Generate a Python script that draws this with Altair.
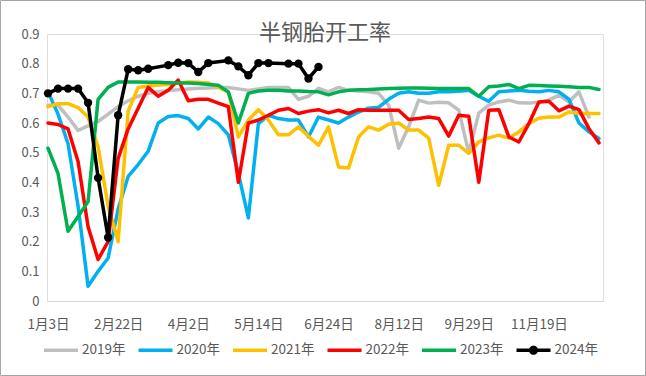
import altair as alt
import pandas as pd

# ---------------- data ----------------
tick_labels = ["1月3日", "2月22日", "4月2日", "5月14日", "6月24日", "8月12日", "9月29日", "11月19日"]
tick_step = 7
n_weeks = 56
weeks = list(range(n_weeks))

years = ["2019年", "2020年", "2021年", "2022年", "2023年", "2024年"]
colors = ["#BFBFBF", "#00B0F0", "#FFC000", "#FF0000", "#00B050", "#000000"]

y2019 = [0.66, 0.66, 0.62, 0.575, 0.59, 0.605, 0.63, 0.655, 0.675, 0.69,
         0.70, 0.705, 0.71, 0.712, 0.715, 0.717, 0.718, 0.72, 0.72, 0.715,
         0.71, 0.715, 0.72, 0.72, 0.72, 0.68, 0.69, 0.717, 0.705, 0.72,
         0.71, 0.708, 0.705, 0.70, 0.66, 0.515, 0.587, 0.677, 0.667, 0.67,
         0.668, 0.643, 0.50, 0.633, 0.66, 0.671, 0.677, 0.668, 0.667, 0.67,
         0.677, 0.694, 0.671, 0.705, 0.62, None]
y2020 = [0.705, 0.63, 0.53, 0.32, 0.05, 0.10, 0.145, 0.31, 0.42, 0.46,
         0.505, 0.60, 0.622, 0.625, 0.615, 0.58, 0.62, 0.598, 0.56, 0.43,
         0.28, 0.598, 0.626, 0.615, 0.61, 0.61, 0.553, 0.62, 0.61, 0.60,
         0.62, 0.637, 0.65, 0.653, 0.68, 0.70, 0.705, 0.70, 0.70, 0.705,
         0.705, 0.707, 0.71, 0.69, 0.673, 0.705, 0.708, 0.71, 0.707, 0.705,
         0.71, 0.705, 0.68, 0.60, 0.57, 0.548]
y2021 = [0.655, 0.665, 0.665, 0.652, 0.62, 0.52, 0.32, 0.20, 0.64, 0.72,
         0.725, 0.728, 0.73, 0.735, 0.738, 0.737, 0.735, 0.72, 0.705, 0.553,
         0.61, 0.645, 0.61, 0.56, 0.56, 0.587, 0.555, 0.525, 0.587, 0.452,
         0.448, 0.553, 0.587, 0.576, 0.596, 0.60, 0.576, 0.576, 0.549, 0.39,
         0.525, 0.525, 0.498, 0.536, 0.55, 0.559, 0.549, 0.57, 0.598, 0.616,
         0.62, 0.62, 0.637, 0.632, 0.632, 0.632]
y2022 = [0.60, 0.595, 0.58, 0.47, 0.25, 0.14, 0.20, 0.48, 0.58, 0.65,
         0.72, 0.69, 0.71, 0.745, 0.675, 0.68, 0.68, 0.667, 0.655, 0.40,
         0.60, 0.61, 0.626, 0.643, 0.649, 0.632, 0.64, 0.645, 0.634, 0.643,
         0.632, 0.645, 0.643, 0.643, 0.643, 0.643, 0.612, 0.615, 0.62, 0.615,
         0.556, 0.626, 0.623, 0.40, 0.643, 0.645, 0.553, 0.536, 0.598, 0.671,
         0.673, 0.641, 0.657, 0.645, 0.581, 0.533]
y2023 = [0.515, 0.43, 0.235, 0.285, 0.335, 0.68, 0.72, 0.738, 0.738, 0.738,
         0.737, 0.737, 0.736, 0.735, 0.735, 0.733, 0.73, 0.727, 0.705, 0.60,
         0.70, 0.708, 0.71, 0.71, 0.708, 0.708, 0.706, 0.705, 0.695, 0.705,
         0.71, 0.712, 0.713, 0.715, 0.716, 0.717, 0.718, 0.718, 0.717, 0.716,
         0.716, 0.716, 0.716, 0.69, 0.722, 0.725, 0.73, 0.716, 0.727, 0.726,
         0.725, 0.724, 0.722, 0.72, 0.72, 0.713]
y2024 = [0.70, 0.716, 0.716, 0.716, 0.668, 0.415, 0.214, 0.626, 0.781, 0.778,
         0.783, None, 0.795, 0.803, 0.802, 0.772, 0.802, None, 0.811, 0.791,
         0.761, 0.802, 0.802, None, 0.80, 0.80, 0.75, 0.789]

series = [y2019, y2020, y2021, y2022, y2023, y2024]

rows = []
for yr, vals in zip(years, series):
    for w, v in zip(weeks, vals):
        if v is not None:
            rows.append({"week": w, "rate": v, "year": yr})
df = pd.DataFrame(rows)

# ---------------- styling ----------------
FONT = "Noto Sans CJK SC"
TXT = "#595959"
W, H = 556, 267
PAD_L, PAD_T = 47, 34

label_array = "[" + ",".join("'" + t + "'" for t in tick_labels) + "]"
x_enc = alt.X(
    "week:Q",
    scale=alt.Scale(domain=[-0.1, n_weeks - 0.6], nice=False, zero=False),
    axis=alt.Axis(
        values=[i * tick_step for i in range(len(tick_labels))],
        labelExpr=label_array + "[round(datum.value/" + str(tick_step) + ")]",
        title=None, grid=False, ticks=False,
        domainColor="#D9D9D9", domainWidth=1,
        labelFont=FONT, labelFontSize=13.5, labelColor=TXT, labelPadding=16,
        labelFlush=False, labelOverlap=False,
    ),
)
y_enc = alt.Y(
    "rate:Q",
    scale=alt.Scale(domain=[0, 0.9], nice=False),
    axis=alt.Axis(
        values=[0, 0.1, 0.2, 0.3, 0.4, 0.5, 0.6, 0.7, 0.8, 0.9],
        labelExpr="datum.value == 0 ? '0' : format(datum.value, '.1f')",
        title=None, grid=False, ticks=False, domain=False,
        labelFont=FONT, labelFontSize=13, labelColor=TXT, labelPadding=8,
    ),
)

# one line layer per year, drawn oldest first so 2024 ends on top
line_layers = []
for yr, c in zip(years, colors):
    line_layers.append(
        alt.Chart(df).transform_filter(alt.datum.year == yr).mark_line(
            color=c, strokeWidth=3.5, strokeJoin="round", strokeCap="round"
        ).encode(x=x_enc, y=y_enc)
    )

markers = alt.Chart(df).transform_filter(alt.datum.year == years[-1]).mark_point(
    filled=True, size=70, opacity=1, color=colors[-1], shape="circle"
).encode(x=x_enc, y=y_enc)

# legend only (no marks drawn): line swatches, 2024 with a dot
bar = "M-1,-0.1L1,-0.1L1,0.1L-1,0.1Z"
bar_dot = bar + "M0.27,0A0.27,0.27,0,1,1,-0.27,0A0.27,0.27,0,1,1,0.27,0Z"
shapes = [bar] * 5 + [bar_dot]
leg = alt.Legend(
    title=None, orient="none", direction="horizontal",
    legendX=-3, legendY=299,
    symbolSize=1156, symbolStrokeWidth=0, symbolOpacity=1,
    labelFont=FONT, labelFontSize=13.5, labelColor=TXT,
    labelOffset=4, columnPadding=12.5,
)
legend_layer = alt.Chart(df).transform_filter("false").mark_point(filled=True).encode(
    x=x_enc, y=y_enc,
    color=alt.Color("year:N", scale=alt.Scale(domain=years, range=colors), legend=leg),
    shape=alt.Shape("year:N", scale=alt.Scale(domain=years, range=shapes), legend=leg),
)

frame = alt.Chart(pd.DataFrame({"f": [0]})).mark_rect(
    fillOpacity=0, stroke="#A6A6A6", strokeWidth=1
).encode(
    x=alt.value(-PAD_L + 0.5), x2=alt.value(646 - PAD_L - 0.5),
    y=alt.value(-PAD_T + 0.5), y2=alt.value(376 - PAD_T - 0.5),
)

chart = alt.layer(frame, *line_layers, markers, legend_layer).properties(
    width=W, height=H,
    title=alt.TitleParams(
        "半钢胎开工率", font=FONT, fontSize=22, fontWeight="normal",
        color=TXT, anchor="middle", offset=-33, dy=12,
    ),
    autosize=alt.AutoSizeParams(type="none"),
    padding={"left": PAD_L, "top": PAD_T, "right": 646 - PAD_L - W, "bottom": 376 - PAD_T - H},
).configure_view(stroke=None).configure(background="white")

chart.save("out.html", embed_options={"renderer": "svg", "actions": False})
